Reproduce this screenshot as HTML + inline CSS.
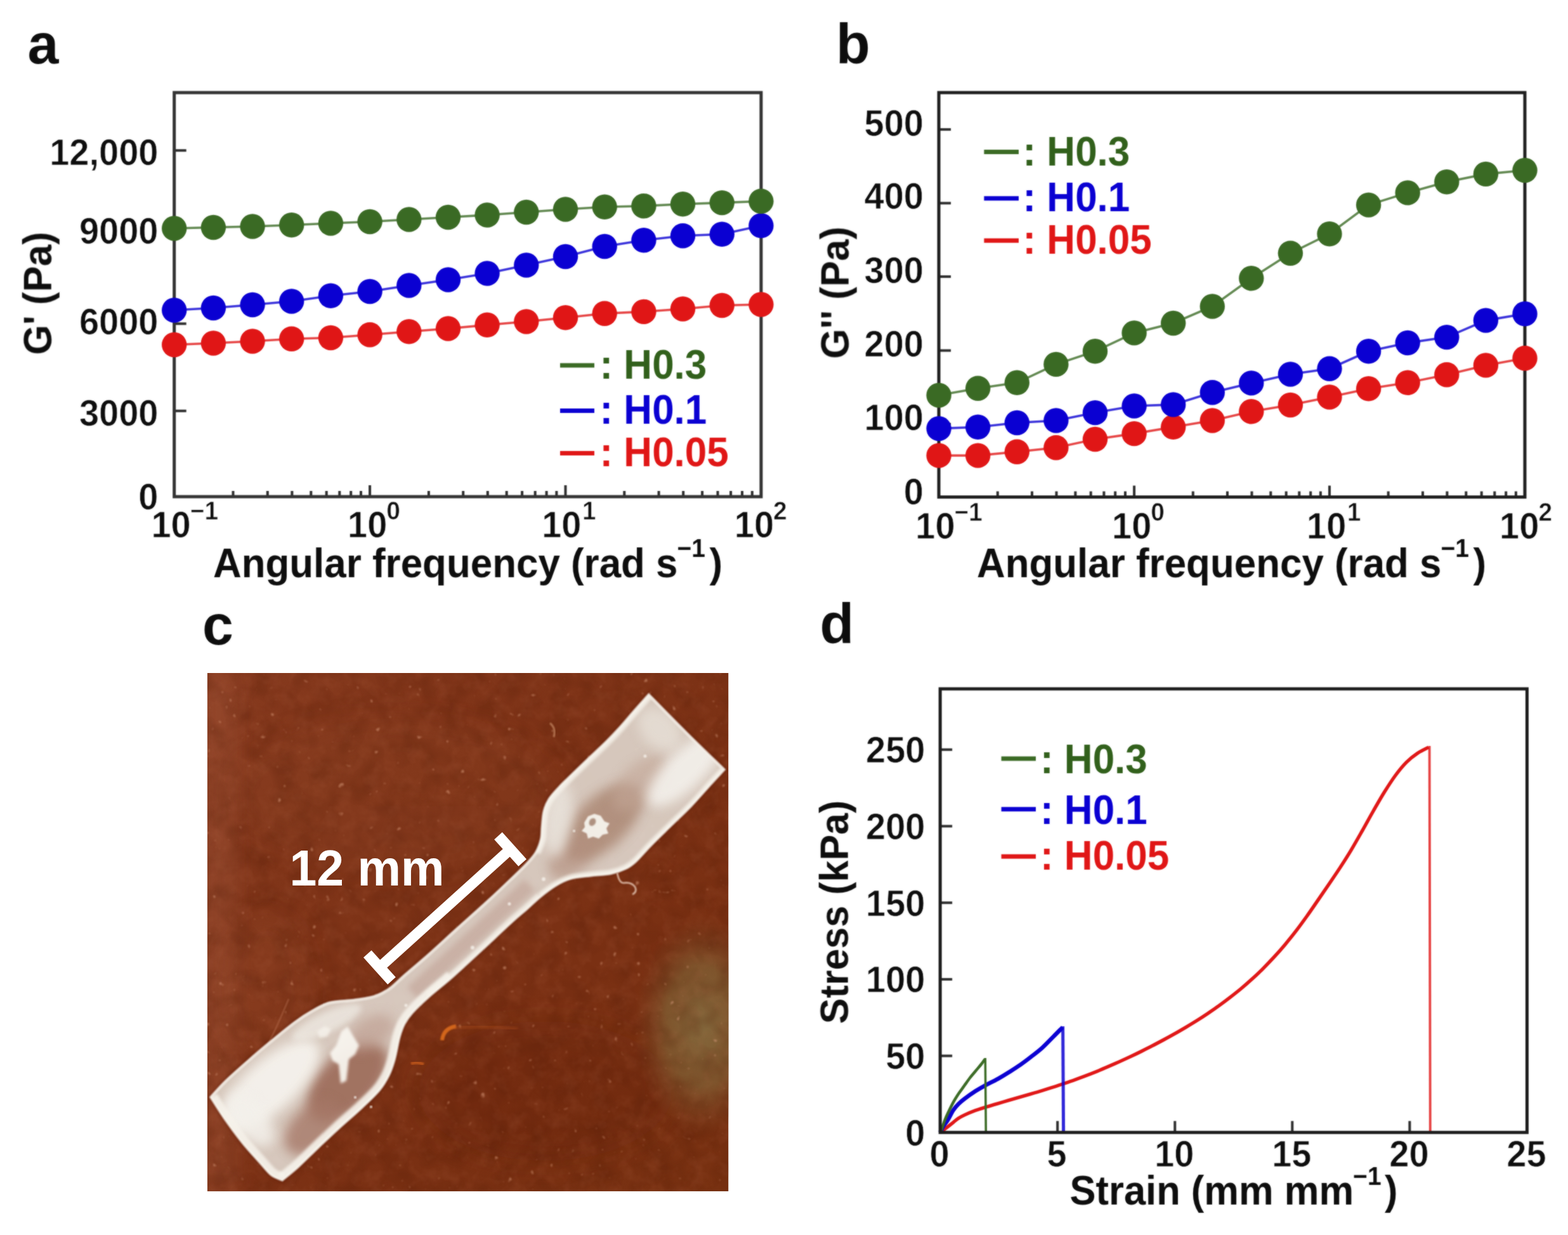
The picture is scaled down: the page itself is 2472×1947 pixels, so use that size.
<!DOCTYPE html>
<html lang="en">
<head>
<meta charset="utf-8">
<title>Figure: rheology and tensile properties of hydrogels</title>
<style>
html, body { margin: 0; padding: 0; background: #ffffff; }
body { width: 2472px; height: 1947px; overflow: hidden; }
svg { display: block; }
svg text { font-family: "Liberation Sans", Arial, Helvetica, sans-serif; font-weight: 700; }
</style>
</head>
<body>
<svg width="2472" height="1947" viewBox="0 0 2472 1947">
<defs><filter id="soft" x="-5%" y="-5%" width="110%" height="110%" color-interpolation-filters="sRGB"><feGaussianBlur stdDeviation="1" result="b"/><feComposite in="b" in2="SourceGraphic" operator="arithmetic" k1="0" k2="0.55" k3="0.45" k4="0"/></filter></defs>
<rect x="0" y="0" width="2472" height="1947" fill="#ffffff"/>
<g id="panel-a" filter="url(#soft)">
<text transform="translate(43.5 99.8) scale(1 1.02)" font-size="88" fill="#0d0d0d">a</text>
<line x1="274.7" y1="237.2" x2="293.7" y2="237.2" stroke="#2e2e2e" stroke-width="4"/>
<line x1="274.7" y1="510.3" x2="293.7" y2="510.3" stroke="#2e2e2e" stroke-width="4"/>
<line x1="274.7" y1="647.8" x2="293.7" y2="647.8" stroke="#2e2e2e" stroke-width="4"/>
<line x1="367.5" y1="774" x2="367.5" y2="783" stroke="#2e2e2e" stroke-width="4"/>
<line x1="421.8" y1="774" x2="421.8" y2="783" stroke="#2e2e2e" stroke-width="4"/>
<line x1="460.4" y1="774" x2="460.4" y2="783" stroke="#2e2e2e" stroke-width="4"/>
<line x1="490.3" y1="774" x2="490.3" y2="783" stroke="#2e2e2e" stroke-width="4"/>
<line x1="514.7" y1="774" x2="514.7" y2="783" stroke="#2e2e2e" stroke-width="4"/>
<line x1="535.3" y1="774" x2="535.3" y2="783" stroke="#2e2e2e" stroke-width="4"/>
<line x1="553.2" y1="774" x2="553.2" y2="783" stroke="#2e2e2e" stroke-width="4"/>
<line x1="569.0" y1="774" x2="569.0" y2="783" stroke="#2e2e2e" stroke-width="4"/>
<line x1="583.1" y1="765" x2="583.1" y2="783" stroke="#2e2e2e" stroke-width="4"/>
<line x1="675.9" y1="774" x2="675.9" y2="783" stroke="#2e2e2e" stroke-width="4"/>
<line x1="730.2" y1="774" x2="730.2" y2="783" stroke="#2e2e2e" stroke-width="4"/>
<line x1="768.8" y1="774" x2="768.8" y2="783" stroke="#2e2e2e" stroke-width="4"/>
<line x1="798.7" y1="774" x2="798.7" y2="783" stroke="#2e2e2e" stroke-width="4"/>
<line x1="823.1" y1="774" x2="823.1" y2="783" stroke="#2e2e2e" stroke-width="4"/>
<line x1="843.7" y1="774" x2="843.7" y2="783" stroke="#2e2e2e" stroke-width="4"/>
<line x1="861.6" y1="774" x2="861.6" y2="783" stroke="#2e2e2e" stroke-width="4"/>
<line x1="877.4" y1="774" x2="877.4" y2="783" stroke="#2e2e2e" stroke-width="4"/>
<line x1="891.5" y1="765" x2="891.5" y2="783" stroke="#2e2e2e" stroke-width="4"/>
<line x1="984.3" y1="774" x2="984.3" y2="783" stroke="#2e2e2e" stroke-width="4"/>
<line x1="1038.6" y1="774" x2="1038.6" y2="783" stroke="#2e2e2e" stroke-width="4"/>
<line x1="1077.2" y1="774" x2="1077.2" y2="783" stroke="#2e2e2e" stroke-width="4"/>
<line x1="1107.1" y1="774" x2="1107.1" y2="783" stroke="#2e2e2e" stroke-width="4"/>
<line x1="1131.5" y1="774" x2="1131.5" y2="783" stroke="#2e2e2e" stroke-width="4"/>
<line x1="1152.1" y1="774" x2="1152.1" y2="783" stroke="#2e2e2e" stroke-width="4"/>
<line x1="1170.0" y1="774" x2="1170.0" y2="783" stroke="#2e2e2e" stroke-width="4"/>
<line x1="1185.8" y1="774" x2="1185.8" y2="783" stroke="#2e2e2e" stroke-width="4"/>
<rect x="274.7" y="146" width="925.2" height="637" fill="none" stroke="#333333" stroke-width="5"/>
<text transform="translate(249.5 260.2) scale(1 1.04)" font-size="56" fill="#0d0d0d" text-anchor="end" stroke="#ffffff" stroke-width="0.7">12,000</text>
<text transform="translate(249.5 383.7) scale(1 1.04)" font-size="56" fill="#0d0d0d" text-anchor="end" stroke="#ffffff" stroke-width="0.7">9000</text>
<text transform="translate(249.5 527.2) scale(1 1.04)" font-size="56" fill="#0d0d0d" text-anchor="end" stroke="#ffffff" stroke-width="0.7">6000</text>
<text transform="translate(249.5 670.5) scale(1 1.04)" font-size="56" fill="#0d0d0d" text-anchor="end" stroke="#ffffff" stroke-width="0.7">3000</text>
<text transform="translate(249.5 802.5) scale(1 1.04)" font-size="56" fill="#0d0d0d" text-anchor="end" stroke="#ffffff" stroke-width="0.7">0</text>
<text transform="translate(238.4 847.3) scale(1 1.04)" font-size="56" fill="#0d0d0d" stroke="#ffffff" stroke-width="0.7">10<tspan font-size="39" dy="-27" dx="-1">−1</tspan></text>
<text transform="translate(548 847.3) scale(1 1.04)" font-size="56" fill="#0d0d0d" stroke="#ffffff" stroke-width="0.7">10<tspan font-size="39" dy="-27" dx="-1">0</tspan></text>
<text transform="translate(854.2 847.3) scale(1 1.04)" font-size="56" fill="#0d0d0d" stroke="#ffffff" stroke-width="0.7">10<tspan font-size="39" dy="-27" dx="1.5">1</tspan></text>
<text transform="translate(1157.8 847.3) scale(1 1.04)" font-size="56" fill="#0d0d0d" stroke="#ffffff" stroke-width="0.7">10<tspan font-size="39" dy="-27" dx="-1">2</tspan></text>
<text transform="translate(336 909.5) scale(1 1.04)" font-size="61.9" fill="#0d0d0d">Angular frequency (rad s<tspan font-size="39" dy="-30.5" dx="-1">−1</tspan><tspan dy="30.5" dx="6.5">)</tspan></text>
<text transform="translate(81 462.5) rotate(-90) scale(1 1.04)" font-size="61" fill="#0d0d0d" text-anchor="middle">G' (Pa)</text>
<polyline points="274.7,543.5 336.4,541 398.1,538 459.7,534.2 521.4,532.5 583.1,527.7 644.8,522.8 706.5,518 768.1,512.3 829.8,507 891.5,500.8 953.2,494.2 1014.9,491.4 1076.5,487 1138.2,481.5 1199.9,480" fill="none" stroke="#e01616" stroke-width="3.6" opacity="0.8"/>
<circle cx="274.7" cy="543.5" r="19.7" fill="#e01616"/>
<circle cx="336.4" cy="541" r="19.7" fill="#e01616"/>
<circle cx="398.1" cy="538" r="19.7" fill="#e01616"/>
<circle cx="459.7" cy="534.2" r="19.7" fill="#e01616"/>
<circle cx="521.4" cy="532.5" r="19.7" fill="#e01616"/>
<circle cx="583.1" cy="527.7" r="19.7" fill="#e01616"/>
<circle cx="644.8" cy="522.8" r="19.7" fill="#e01616"/>
<circle cx="706.5" cy="518" r="19.7" fill="#e01616"/>
<circle cx="768.1" cy="512.3" r="19.7" fill="#e01616"/>
<circle cx="829.8" cy="507" r="19.7" fill="#e01616"/>
<circle cx="891.5" cy="500.8" r="19.7" fill="#e01616"/>
<circle cx="953.2" cy="494.2" r="19.7" fill="#e01616"/>
<circle cx="1014.9" cy="491.4" r="19.7" fill="#e01616"/>
<circle cx="1076.5" cy="487" r="19.7" fill="#e01616"/>
<circle cx="1138.2" cy="481.5" r="19.7" fill="#e01616"/>
<circle cx="1199.9" cy="480" r="19.7" fill="#e01616"/>
<polyline points="274.7,489 336.4,485.5 398.1,480.5 459.7,475 521.4,466.3 583.1,459.5 644.8,450 706.5,441 768.1,431 829.8,418 891.5,404.5 953.2,388.5 1014.9,378.8 1076.5,371.7 1138.2,369.3 1199.9,355.8" fill="none" stroke="#0a00d2" stroke-width="3.6" opacity="0.8"/>
<circle cx="274.7" cy="489" r="19.7" fill="#0a00d2"/>
<circle cx="336.4" cy="485.5" r="19.7" fill="#0a00d2"/>
<circle cx="398.1" cy="480.5" r="19.7" fill="#0a00d2"/>
<circle cx="459.7" cy="475" r="19.7" fill="#0a00d2"/>
<circle cx="521.4" cy="466.3" r="19.7" fill="#0a00d2"/>
<circle cx="583.1" cy="459.5" r="19.7" fill="#0a00d2"/>
<circle cx="644.8" cy="450" r="19.7" fill="#0a00d2"/>
<circle cx="706.5" cy="441" r="19.7" fill="#0a00d2"/>
<circle cx="768.1" cy="431" r="19.7" fill="#0a00d2"/>
<circle cx="829.8" cy="418" r="19.7" fill="#0a00d2"/>
<circle cx="891.5" cy="404.5" r="19.7" fill="#0a00d2"/>
<circle cx="953.2" cy="388.5" r="19.7" fill="#0a00d2"/>
<circle cx="1014.9" cy="378.8" r="19.7" fill="#0a00d2"/>
<circle cx="1076.5" cy="371.7" r="19.7" fill="#0a00d2"/>
<circle cx="1138.2" cy="369.3" r="19.7" fill="#0a00d2"/>
<circle cx="1199.9" cy="355.8" r="19.7" fill="#0a00d2"/>
<polyline points="274.7,360 336.4,358.5 398.1,357 459.7,354.8 521.4,352 583.1,349.5 644.8,346 706.5,342.5 768.1,339 829.8,334.5 891.5,330 953.2,326.3 1014.9,324.7 1076.5,321.8 1138.2,319.6 1199.9,317.2" fill="none" stroke="#3a6a24" stroke-width="3.6" opacity="0.8"/>
<circle cx="274.7" cy="360" r="19.7" fill="#3a6a24"/>
<circle cx="336.4" cy="358.5" r="19.7" fill="#3a6a24"/>
<circle cx="398.1" cy="357" r="19.7" fill="#3a6a24"/>
<circle cx="459.7" cy="354.8" r="19.7" fill="#3a6a24"/>
<circle cx="521.4" cy="352" r="19.7" fill="#3a6a24"/>
<circle cx="583.1" cy="349.5" r="19.7" fill="#3a6a24"/>
<circle cx="644.8" cy="346" r="19.7" fill="#3a6a24"/>
<circle cx="706.5" cy="342.5" r="19.7" fill="#3a6a24"/>
<circle cx="768.1" cy="339" r="19.7" fill="#3a6a24"/>
<circle cx="829.8" cy="334.5" r="19.7" fill="#3a6a24"/>
<circle cx="891.5" cy="330" r="19.7" fill="#3a6a24"/>
<circle cx="953.2" cy="326.3" r="19.7" fill="#3a6a24"/>
<circle cx="1014.9" cy="324.7" r="19.7" fill="#3a6a24"/>
<circle cx="1076.5" cy="321.8" r="19.7" fill="#3a6a24"/>
<circle cx="1138.2" cy="319.6" r="19.7" fill="#3a6a24"/>
<circle cx="1199.9" cy="317.2" r="19.7" fill="#3a6a24"/>
<line x1="883" y1="576" x2="937" y2="576" stroke="#3a6a24" stroke-width="7"/>
<text transform="translate(945.5 596.5) scale(1 1.04)" font-size="62" fill="#31601b">: H0.3</text>
<line x1="883" y1="647.5" x2="937" y2="647.5" stroke="#0a00d2" stroke-width="7"/>
<text transform="translate(945.5 668) scale(1 1.04)" font-size="62" fill="#0a00d2">: H0.1</text>
<line x1="883" y1="714.5" x2="937" y2="714.5" stroke="#e01616" stroke-width="7"/>
<text transform="translate(945.5 734.5) scale(1 1.04)" font-size="62" fill="#e01616">: H0.05</text>
</g>
<g id="panel-b" filter="url(#soft)">
<text transform="translate(1318 100) scale(1 1.02)" font-size="88" fill="#0d0d0d">b</text>
<line x1="1480.1" y1="204.1" x2="1499.1" y2="204.1" stroke="#2e2e2e" stroke-width="4"/>
<line x1="1480.1" y1="320.3" x2="1499.1" y2="320.3" stroke="#2e2e2e" stroke-width="4"/>
<line x1="1480.1" y1="436.1" x2="1499.1" y2="436.1" stroke="#2e2e2e" stroke-width="4"/>
<line x1="1480.1" y1="552.6" x2="1499.1" y2="552.6" stroke="#2e2e2e" stroke-width="4"/>
<line x1="1480.1" y1="668.7" x2="1499.1" y2="668.7" stroke="#2e2e2e" stroke-width="4"/>
<line x1="1572.8" y1="774.6" x2="1572.8" y2="783.6" stroke="#2e2e2e" stroke-width="4"/>
<line x1="1627.0" y1="774.6" x2="1627.0" y2="783.6" stroke="#2e2e2e" stroke-width="4"/>
<line x1="1665.5" y1="774.6" x2="1665.5" y2="783.6" stroke="#2e2e2e" stroke-width="4"/>
<line x1="1695.4" y1="774.6" x2="1695.4" y2="783.6" stroke="#2e2e2e" stroke-width="4"/>
<line x1="1719.7" y1="774.6" x2="1719.7" y2="783.6" stroke="#2e2e2e" stroke-width="4"/>
<line x1="1740.4" y1="774.6" x2="1740.4" y2="783.6" stroke="#2e2e2e" stroke-width="4"/>
<line x1="1758.2" y1="774.6" x2="1758.2" y2="783.6" stroke="#2e2e2e" stroke-width="4"/>
<line x1="1774.0" y1="774.6" x2="1774.0" y2="783.6" stroke="#2e2e2e" stroke-width="4"/>
<line x1="1788.1" y1="765.6" x2="1788.1" y2="783.6" stroke="#2e2e2e" stroke-width="4"/>
<line x1="1880.8" y1="774.6" x2="1880.8" y2="783.6" stroke="#2e2e2e" stroke-width="4"/>
<line x1="1935.0" y1="774.6" x2="1935.0" y2="783.6" stroke="#2e2e2e" stroke-width="4"/>
<line x1="1973.5" y1="774.6" x2="1973.5" y2="783.6" stroke="#2e2e2e" stroke-width="4"/>
<line x1="2003.3" y1="774.6" x2="2003.3" y2="783.6" stroke="#2e2e2e" stroke-width="4"/>
<line x1="2027.7" y1="774.6" x2="2027.7" y2="783.6" stroke="#2e2e2e" stroke-width="4"/>
<line x1="2048.3" y1="774.6" x2="2048.3" y2="783.6" stroke="#2e2e2e" stroke-width="4"/>
<line x1="2066.2" y1="774.6" x2="2066.2" y2="783.6" stroke="#2e2e2e" stroke-width="4"/>
<line x1="2081.9" y1="774.6" x2="2081.9" y2="783.6" stroke="#2e2e2e" stroke-width="4"/>
<line x1="2096.0" y1="765.6" x2="2096.0" y2="783.6" stroke="#2e2e2e" stroke-width="4"/>
<line x1="2188.7" y1="774.6" x2="2188.7" y2="783.6" stroke="#2e2e2e" stroke-width="4"/>
<line x1="2243.0" y1="774.6" x2="2243.0" y2="783.6" stroke="#2e2e2e" stroke-width="4"/>
<line x1="2281.4" y1="774.6" x2="2281.4" y2="783.6" stroke="#2e2e2e" stroke-width="4"/>
<line x1="2311.3" y1="774.6" x2="2311.3" y2="783.6" stroke="#2e2e2e" stroke-width="4"/>
<line x1="2335.7" y1="774.6" x2="2335.7" y2="783.6" stroke="#2e2e2e" stroke-width="4"/>
<line x1="2356.3" y1="774.6" x2="2356.3" y2="783.6" stroke="#2e2e2e" stroke-width="4"/>
<line x1="2374.2" y1="774.6" x2="2374.2" y2="783.6" stroke="#2e2e2e" stroke-width="4"/>
<line x1="2389.9" y1="774.6" x2="2389.9" y2="783.6" stroke="#2e2e2e" stroke-width="4"/>
<rect x="1480.1" y="146" width="923.9000000000001" height="637.6" fill="none" stroke="#1e1e1e" stroke-width="5"/>
<text transform="translate(1456 214.0) scale(1 1.04)" font-size="56" fill="#0d0d0d" text-anchor="end" stroke="#ffffff" stroke-width="0.7">500</text>
<text transform="translate(1456 329.2) scale(1 1.04)" font-size="56" fill="#0d0d0d" text-anchor="end" stroke="#ffffff" stroke-width="0.7">400</text>
<text transform="translate(1456 445.5) scale(1 1.04)" font-size="56" fill="#0d0d0d" text-anchor="end" stroke="#ffffff" stroke-width="0.7">300</text>
<text transform="translate(1456 561.5) scale(1 1.04)" font-size="56" fill="#0d0d0d" text-anchor="end" stroke="#ffffff" stroke-width="0.7">200</text>
<text transform="translate(1456 677.8) scale(1 1.04)" font-size="56" fill="#0d0d0d" text-anchor="end" stroke="#ffffff" stroke-width="0.7">100</text>
<text transform="translate(1456 794.7) scale(1 1.04)" font-size="56" fill="#0d0d0d" text-anchor="end" stroke="#ffffff" stroke-width="0.7">0</text>
<text transform="translate(1443.3 848.6) scale(1 1.04)" font-size="56" fill="#0d0d0d" stroke="#ffffff" stroke-width="0.7">10<tspan font-size="39" dy="-27" dx="-1">−1</tspan></text>
<text transform="translate(1753 848.6) scale(1 1.04)" font-size="56" fill="#0d0d0d" stroke="#ffffff" stroke-width="0.7">10<tspan font-size="39" dy="-27" dx="-1">0</tspan></text>
<text transform="translate(2060.1 848.6) scale(1 1.04)" font-size="56" fill="#0d0d0d" stroke="#ffffff" stroke-width="0.7">10<tspan font-size="39" dy="-27" dx="1.5">1</tspan></text>
<text transform="translate(2364.1 848.6) scale(1 1.04)" font-size="56" fill="#0d0d0d" stroke="#ffffff" stroke-width="0.7">10<tspan font-size="39" dy="-27" dx="-1">2</tspan></text>
<text transform="translate(1540 909.5) scale(1 1.04)" font-size="61.9" fill="#0d0d0d">Angular frequency (rad s<tspan font-size="39" dy="-30.5" dx="-1">−1</tspan><tspan dy="30.5" dx="6.5">)</tspan></text>
<text transform="translate(1338 461.5) rotate(-90) scale(1 1.04)" font-size="61" fill="#0d0d0d" text-anchor="middle">G'' (Pa)</text>
<polyline points="1480.1,718.1 1541.7,718.1 1603.3,712.2 1664.9,705.7 1726.5,692.5 1788.1,683.6 1849.7,673.3 1911.3,663 1972.8,648.8 2034.4,638.5 2096.0,626 2157.6,612.8 2219.2,603.3 2280.8,590.7 2342.4,575.9 2404.0,564.7" fill="none" stroke="#e01616" stroke-width="3.6" opacity="0.8"/>
<circle cx="1480.1" cy="718.1" r="19.7" fill="#e01616"/>
<circle cx="1541.7" cy="718.1" r="19.7" fill="#e01616"/>
<circle cx="1603.3" cy="712.2" r="19.7" fill="#e01616"/>
<circle cx="1664.9" cy="705.7" r="19.7" fill="#e01616"/>
<circle cx="1726.5" cy="692.5" r="19.7" fill="#e01616"/>
<circle cx="1788.1" cy="683.6" r="19.7" fill="#e01616"/>
<circle cx="1849.7" cy="673.3" r="19.7" fill="#e01616"/>
<circle cx="1911.3" cy="663" r="19.7" fill="#e01616"/>
<circle cx="1972.8" cy="648.8" r="19.7" fill="#e01616"/>
<circle cx="2034.4" cy="638.5" r="19.7" fill="#e01616"/>
<circle cx="2096.0" cy="626" r="19.7" fill="#e01616"/>
<circle cx="2157.6" cy="612.8" r="19.7" fill="#e01616"/>
<circle cx="2219.2" cy="603.3" r="19.7" fill="#e01616"/>
<circle cx="2280.8" cy="590.7" r="19.7" fill="#e01616"/>
<circle cx="2342.4" cy="575.9" r="19.7" fill="#e01616"/>
<circle cx="2404.0" cy="564.7" r="19.7" fill="#e01616"/>
<polyline points="1480.1,675.6 1541.7,673.3 1603.3,666.5 1664.9,663 1726.5,650.6 1788.1,640 1849.7,637.9 1911.3,618.7 1972.8,603.9 2034.4,590 2096.0,581.2 2157.6,553.8 2219.2,540.5 2280.8,531.6 2342.4,505.1 2404.0,494.8" fill="none" stroke="#0a00d2" stroke-width="3.6" opacity="0.8"/>
<circle cx="1480.1" cy="675.6" r="19.7" fill="#0a00d2"/>
<circle cx="1541.7" cy="673.3" r="19.7" fill="#0a00d2"/>
<circle cx="1603.3" cy="666.5" r="19.7" fill="#0a00d2"/>
<circle cx="1664.9" cy="663" r="19.7" fill="#0a00d2"/>
<circle cx="1726.5" cy="650.6" r="19.7" fill="#0a00d2"/>
<circle cx="1788.1" cy="640" r="19.7" fill="#0a00d2"/>
<circle cx="1849.7" cy="637.9" r="19.7" fill="#0a00d2"/>
<circle cx="1911.3" cy="618.7" r="19.7" fill="#0a00d2"/>
<circle cx="1972.8" cy="603.9" r="19.7" fill="#0a00d2"/>
<circle cx="2034.4" cy="590" r="19.7" fill="#0a00d2"/>
<circle cx="2096.0" cy="581.2" r="19.7" fill="#0a00d2"/>
<circle cx="2157.6" cy="553.8" r="19.7" fill="#0a00d2"/>
<circle cx="2219.2" cy="540.5" r="19.7" fill="#0a00d2"/>
<circle cx="2280.8" cy="531.6" r="19.7" fill="#0a00d2"/>
<circle cx="2342.4" cy="505.1" r="19.7" fill="#0a00d2"/>
<circle cx="2404.0" cy="494.8" r="19.7" fill="#0a00d2"/>
<polyline points="1480.1,623.1 1541.7,612.2 1603.3,603.3 1664.9,574.4 1726.5,553.8 1788.1,524.9 1849.7,509.5 1911.3,483 1972.8,438.8 2034.4,399.2 2096.0,368.8 2157.6,323.1 2219.2,303.9 2280.8,286.8 2342.4,274.4 2404.0,268.5" fill="none" stroke="#3a6a24" stroke-width="3.6" opacity="0.8"/>
<circle cx="1480.1" cy="623.1" r="19.7" fill="#3a6a24"/>
<circle cx="1541.7" cy="612.2" r="19.7" fill="#3a6a24"/>
<circle cx="1603.3" cy="603.3" r="19.7" fill="#3a6a24"/>
<circle cx="1664.9" cy="574.4" r="19.7" fill="#3a6a24"/>
<circle cx="1726.5" cy="553.8" r="19.7" fill="#3a6a24"/>
<circle cx="1788.1" cy="524.9" r="19.7" fill="#3a6a24"/>
<circle cx="1849.7" cy="509.5" r="19.7" fill="#3a6a24"/>
<circle cx="1911.3" cy="483" r="19.7" fill="#3a6a24"/>
<circle cx="1972.8" cy="438.8" r="19.7" fill="#3a6a24"/>
<circle cx="2034.4" cy="399.2" r="19.7" fill="#3a6a24"/>
<circle cx="2096.0" cy="368.8" r="19.7" fill="#3a6a24"/>
<circle cx="2157.6" cy="323.1" r="19.7" fill="#3a6a24"/>
<circle cx="2219.2" cy="303.9" r="19.7" fill="#3a6a24"/>
<circle cx="2280.8" cy="286.8" r="19.7" fill="#3a6a24"/>
<circle cx="2342.4" cy="274.4" r="19.7" fill="#3a6a24"/>
<circle cx="2404.0" cy="268.5" r="19.7" fill="#3a6a24"/>
<line x1="1551.4" y1="239.6" x2="1606" y2="239.6" stroke="#3a6a24" stroke-width="7"/>
<text transform="translate(1612.5 261) scale(1 1.04)" font-size="62" fill="#31601b">: H0.3</text>
<line x1="1551.4" y1="312.8" x2="1606" y2="312.8" stroke="#0a00d2" stroke-width="7"/>
<text transform="translate(1612.5 333.4) scale(1 1.04)" font-size="62" fill="#0a00d2">: H0.1</text>
<line x1="1551.4" y1="379.2" x2="1606" y2="379.2" stroke="#e01616" stroke-width="7"/>
<text transform="translate(1612.5 399.8) scale(1 1.04)" font-size="62" fill="#e01616">: H0.05</text>
</g>
<g id="panel-d" filter="url(#soft)">
<text transform="translate(1292.5 1013.8) scale(1 1.02)" font-size="88" fill="#0d0d0d">d</text>
<line x1="1482.2" y1="1664.6" x2="1501.2" y2="1664.6" stroke="#2e2e2e" stroke-width="4"/>
<line x1="1482.2" y1="1543.9" x2="1501.2" y2="1543.9" stroke="#2e2e2e" stroke-width="4"/>
<line x1="1482.2" y1="1423.2" x2="1501.2" y2="1423.2" stroke="#2e2e2e" stroke-width="4"/>
<line x1="1482.2" y1="1302.5" x2="1501.2" y2="1302.5" stroke="#2e2e2e" stroke-width="4"/>
<line x1="1482.2" y1="1181.8" x2="1501.2" y2="1181.8" stroke="#2e2e2e" stroke-width="4"/>
<line x1="1667.2" y1="1767.3" x2="1667.2" y2="1785.3" stroke="#2e2e2e" stroke-width="4"/>
<line x1="1852.3" y1="1767.3" x2="1852.3" y2="1785.3" stroke="#2e2e2e" stroke-width="4"/>
<line x1="2037.3" y1="1767.3" x2="2037.3" y2="1785.3" stroke="#2e2e2e" stroke-width="4"/>
<line x1="2222.4" y1="1767.3" x2="2222.4" y2="1785.3" stroke="#2e2e2e" stroke-width="4"/>
<text transform="translate(1458.5 1805.6) scale(1 1.04)" font-size="56" fill="#0d0d0d" text-anchor="end" stroke="#ffffff" stroke-width="0.7">0</text>
<text transform="translate(1458.5 1684.9) scale(1 1.04)" font-size="56" fill="#0d0d0d" text-anchor="end" stroke="#ffffff" stroke-width="0.7">50</text>
<text transform="translate(1458.5 1564.2) scale(1 1.04)" font-size="56" fill="#0d0d0d" text-anchor="end" stroke="#ffffff" stroke-width="0.7">100</text>
<text transform="translate(1458.5 1443.5) scale(1 1.04)" font-size="56" fill="#0d0d0d" text-anchor="end" stroke="#ffffff" stroke-width="0.7">150</text>
<text transform="translate(1458.5 1322.8) scale(1 1.04)" font-size="56" fill="#0d0d0d" text-anchor="end" stroke="#ffffff" stroke-width="0.7">200</text>
<text transform="translate(1458.5 1202.1) scale(1 1.04)" font-size="56" fill="#0d0d0d" text-anchor="end" stroke="#ffffff" stroke-width="0.7">250</text>
<text transform="translate(1481.2 1839.3) scale(1 1.04)" font-size="56" fill="#0d0d0d" text-anchor="middle" stroke="#ffffff" stroke-width="0.7">0</text>
<text transform="translate(1666.2 1839.3) scale(1 1.04)" font-size="56" fill="#0d0d0d" text-anchor="middle" stroke="#ffffff" stroke-width="0.7">5</text>
<text transform="translate(1851.3 1839.3) scale(1 1.04)" font-size="56" fill="#0d0d0d" text-anchor="middle" stroke="#ffffff" stroke-width="0.7">10</text>
<text transform="translate(2036.3 1839.3) scale(1 1.04)" font-size="56" fill="#0d0d0d" text-anchor="middle" stroke="#ffffff" stroke-width="0.7">15</text>
<text transform="translate(2221.4 1839.3) scale(1 1.04)" font-size="56" fill="#0d0d0d" text-anchor="middle" stroke="#ffffff" stroke-width="0.7">20</text>
<text transform="translate(2406.4 1839.3) scale(1 1.04)" font-size="56" fill="#0d0d0d" text-anchor="middle" stroke="#ffffff" stroke-width="0.7">25</text>
<text transform="translate(1686.5 1898.7) scale(1 1.04)" font-size="61.5" fill="#0d0d0d">Strain (mm mm<tspan font-size="39" dy="-30" dx="-1">−1</tspan><tspan dy="30" dx="5.5">)</tspan></text>
<text transform="translate(1337 1438) rotate(-90) scale(1 1.04)" font-size="61" fill="#0d0d0d" text-anchor="middle">Stress (kPa)</text>
<path d="M1482.2,1785.3 C1483.2,1784.6 1486.0,1782.5 1488.0,1781.0 C1490.0,1779.5 1491.7,1778.2 1494.2,1776.3 C1496.7,1774.3 1500.2,1771.5 1503.0,1769.3 C1505.8,1767.1 1508.1,1764.9 1511.0,1763.0 C1513.9,1761.1 1516.0,1760.0 1520.5,1757.9 C1525.0,1755.8 1532.2,1752.8 1538.0,1750.6 C1543.8,1748.4 1549.6,1746.8 1555.4,1745.0 C1561.2,1743.2 1567.0,1741.5 1572.8,1739.8 C1578.6,1738.1 1584.5,1736.4 1590.3,1734.7 C1596.1,1733.0 1601.9,1731.4 1607.7,1729.7 C1613.5,1728.0 1619.3,1726.4 1625.1,1724.7 C1630.9,1723.0 1636.7,1721.3 1642.5,1719.5 C1648.3,1717.7 1654.1,1715.9 1659.9,1714.0 C1665.7,1712.1 1671.6,1710.3 1677.4,1708.3 C1683.2,1706.3 1689.0,1704.3 1694.8,1702.2 C1700.6,1700.1 1706.4,1697.9 1712.2,1695.7 C1718.0,1693.5 1723.8,1691.2 1729.6,1688.9 C1735.4,1686.6 1741.2,1684.1 1747.0,1681.6 C1752.8,1679.1 1758.7,1676.5 1764.5,1673.9 C1770.3,1671.3 1776.1,1668.6 1781.9,1665.9 C1787.7,1663.2 1793.5,1660.4 1799.3,1657.5 C1805.1,1654.6 1810.9,1651.7 1816.7,1648.7 C1822.5,1645.7 1828.3,1642.6 1834.1,1639.5 C1839.9,1636.4 1845.8,1633.2 1851.6,1629.9 C1857.4,1626.6 1863.2,1623.2 1869.0,1619.8 C1874.8,1616.3 1880.6,1612.8 1886.4,1609.2 C1892.2,1605.6 1898.0,1601.8 1903.8,1597.9 C1909.6,1594.0 1915.4,1590.1 1921.2,1585.9 C1927.0,1581.7 1932.8,1577.4 1938.6,1572.9 C1944.4,1568.4 1950.3,1563.8 1956.1,1559.0 C1961.9,1554.2 1967.7,1549.1 1973.5,1543.8 C1979.3,1538.5 1985.1,1533.1 1990.9,1527.3 C1996.7,1521.5 2002.5,1515.5 2008.3,1509.2 C2014.1,1502.9 2019.9,1496.3 2025.7,1489.4 C2031.5,1482.5 2037.4,1475.3 2043.2,1467.7 C2049.0,1460.1 2054.8,1452.1 2060.6,1444.0 C2066.4,1435.9 2072.2,1427.3 2078.0,1418.9 C2083.8,1410.5 2089.6,1402.0 2095.4,1393.4 C2101.2,1384.9 2107.0,1376.5 2112.8,1367.6 C2118.6,1358.7 2124.5,1349.5 2130.3,1339.8 C2136.1,1330.1 2141.9,1319.8 2147.7,1309.6 C2153.5,1299.4 2159.3,1288.6 2165.1,1278.5 C2170.9,1268.4 2176.7,1258.1 2182.5,1248.8 C2188.3,1239.5 2194.1,1230.4 2199.9,1222.5 C2205.7,1214.6 2211.6,1207.4 2217.4,1201.6 C2223.2,1195.8 2229.0,1191.4 2234.8,1187.5 C2240.6,1183.6 2249.3,1179.6 2252.2,1178.0" fill="none" stroke="#e01616" stroke-width="5.4" stroke-linejoin="round"/>
<polyline points="2253.6,1176 2254.8,1785 2262,1785" fill="none" stroke="#e01616" stroke-width="3.8" opacity="0.82"/>
<path d="M1482.2,1785.3 C1483.0,1783.8 1485.0,1779.2 1487,1776 C1489.0,1772.8 1491.5,1770.1 1494.2,1765.8 C1496.9,1761.5 1500.2,1754.2 1503,1750 C1505.8,1745.8 1508.1,1743.4 1511,1740.5 C1513.9,1737.6 1516.0,1735.8 1520.5,1732.4 C1525.0,1729.0 1532.6,1723.6 1538,1720.1 C1543.4,1716.6 1547.1,1714.5 1553,1711.3 C1558.9,1708.1 1566.9,1704.3 1573.2,1700.8 C1579.5,1697.3 1585.0,1693.9 1590.8,1690.2 C1596.6,1686.5 1602.4,1682.9 1608.3,1678.8 C1614.2,1674.7 1620.1,1670.2 1625.9,1665.7 C1631.8,1661.2 1637.6,1656.9 1643.4,1651.6 C1649.2,1646.3 1655.7,1639.3 1661,1634 C1666.3,1628.7 1672.9,1621.9 1675.3,1619.5" fill="none" stroke="#0a00d2" stroke-width="6.5" stroke-linejoin="round"/>
<polyline points="1675.6,1618 1676.6,1785" fill="none" stroke="#0a00d2" stroke-width="5" opacity="0.85"/>
<path d="M1482.2,1785.3 C1482.7,1784.1 1484.2,1781.2 1485.4,1778 C1486.6,1774.8 1488.0,1769.8 1489.5,1766 C1491.0,1762.2 1492.0,1759.9 1494.2,1755.2 C1496.5,1750.5 1500.1,1743.0 1503,1737.7 C1505.9,1732.4 1508.8,1728.0 1511.7,1723.6 C1514.6,1719.2 1517.6,1715.4 1520.5,1711.3 C1523.4,1707.2 1526.4,1702.8 1529.3,1699 C1532.2,1695.2 1535.1,1692.0 1538,1688.5 C1540.9,1685.0 1544.3,1681.2 1546.8,1678 C1549.3,1674.8 1552.0,1670.9 1553,1669.5" fill="none" stroke="#3a6a24" stroke-width="4.5" stroke-linejoin="round"/>
<polyline points="1553.3,1668 1554.3,1785 1559,1785" fill="none" stroke="#3a6a24" stroke-width="3.5"/>
<rect x="1482.2" y="1086" width="925.2" height="699.3" fill="none" stroke="#1c1c1c" stroke-width="5"/>
<line x1="1578.6" y1="1196" x2="1633" y2="1196" stroke="#3a6a24" stroke-width="7"/>
<text transform="translate(1640 1218.8) scale(1 1.04)" font-size="62" fill="#31601b">: H0.3</text>
<line x1="1578.6" y1="1275.8" x2="1633" y2="1275.8" stroke="#0a00d2" stroke-width="7"/>
<text transform="translate(1640 1298.5) scale(1 1.04)" font-size="62" fill="#0a00d2">: H0.1</text>
<line x1="1578.6" y1="1350.2" x2="1633" y2="1350.2" stroke="#e01616" stroke-width="7"/>
<text transform="translate(1640 1370.8) scale(1 1.04)" font-size="62" fill="#e01616">: H0.05</text>
</g>
<g id="panel-c">
<g filter="url(#soft)">
<text transform="translate(319 1016.3) scale(1 1.02)" font-size="88" fill="#0d0d0d">c</text>
</g>
<defs>
<clipPath id="photoClip"><rect x="326.8" y="1061" width="821.7" height="817.2"/></clipPath>
<clipPath id="specClip"><path d="M1022.8,1095.6 C1032.5,1105.5 1061.5,1135.2 1081.3,1154.8 C1101.0,1174.4 1131.3,1203.5 1141.3,1213.3 C1137.9,1217.0 1129.5,1225.9 1120.8,1235.4 C1112.1,1245.0 1099.6,1259.6 1089.0,1270.6 C1078.4,1281.6 1067.9,1291.1 1057.3,1301.5 C1046.7,1311.9 1034.8,1323.4 1025.5,1332.8 C1016.2,1342.2 1008.4,1352.0 1001.8,1358.0 C995.2,1364.0 992.6,1365.9 986.0,1369.1 C979.4,1372.3 971.4,1375.2 962.2,1377.0 C953.0,1378.8 941.1,1378.9 930.6,1380.2 C920.1,1381.5 908.2,1382.3 899.0,1384.9 C889.8,1387.5 883.2,1391.2 875.3,1396.0 C867.4,1400.8 859.1,1407.3 851.6,1413.4 C844.1,1419.5 838.1,1425.8 830.5,1432.6 C822.9,1439.3 818.2,1442.7 805.9,1453.9 C793.6,1465.1 772.3,1485.4 756.7,1499.8 C741.1,1514.2 725.7,1528.6 712.2,1540.5 C698.7,1552.4 686.3,1561.8 675.9,1571.0 C665.5,1580.2 656.5,1588.8 650.0,1596.0 C643.5,1603.2 640.4,1607.9 637.0,1614.3 C633.6,1620.7 631.4,1627.9 629.5,1634.3 C627.6,1640.7 626.9,1646.1 625.5,1652.4 C624.1,1658.7 623.1,1665.1 621.0,1672.0 C618.9,1678.9 616.8,1686.3 613.0,1694.0 C609.2,1701.7 605.2,1709.3 598.0,1718.0 C590.8,1726.7 581.0,1735.7 570.0,1746.0 C559.0,1756.3 543.7,1769.3 532.0,1780.0 C520.3,1790.7 510.3,1800.2 500.0,1810.0 C489.7,1819.8 479.2,1830.7 470.0,1839.0 C460.8,1847.3 449.2,1856.5 445.0,1860.0 C442.2,1858.7 433.7,1856.5 428.0,1852.0 C422.3,1847.5 418.1,1841.5 410.7,1833.2 C403.3,1824.9 392.6,1813.5 383.5,1802.3 C374.4,1791.1 364.8,1778.1 356.3,1766.0 C347.8,1753.9 336.6,1735.8 332.7,1729.7 C336.6,1725.5 346.3,1714.0 356.3,1704.3 C366.3,1694.6 380.5,1682.2 392.6,1671.6 C404.7,1661.0 416.8,1650.8 428.9,1640.8 C441.0,1630.8 454.6,1619.5 465.2,1611.7 C475.8,1603.9 483.3,1599.1 492.4,1594.0 C501.5,1588.9 509.2,1583.8 520.0,1581.0 C530.8,1578.2 545.8,1578.5 557.0,1577.0 C568.2,1575.5 579.0,1574.1 587.0,1572.0 C595.0,1569.9 599.8,1567.2 605.0,1564.5 C610.2,1561.8 612.2,1560.8 618.0,1556.0 C623.8,1551.2 630.5,1544.3 640.0,1536.0 C649.5,1527.7 661.7,1517.8 675.0,1506.0 C688.3,1494.2 704.2,1479.3 720.0,1465.0 C735.8,1450.7 755.7,1433.2 770.0,1420.0 C784.3,1406.8 795.9,1395.7 806.0,1386.0 C816.1,1376.3 824.0,1369.0 830.5,1362.0 C837.0,1355.0 841.4,1350.6 845.2,1344.1 C849.0,1337.6 851.8,1329.7 853.4,1322.8 C855.0,1315.9 854.2,1310.0 855.0,1302.7 C855.8,1295.4 856.1,1286.1 857.9,1279.0 C859.7,1271.9 862.0,1266.3 866.0,1260.0 C870.0,1253.7 876.9,1246.6 882.0,1241.0 C887.1,1235.4 889.1,1233.8 896.5,1226.5 C903.9,1219.2 916.7,1206.9 926.5,1197.5 C936.3,1188.1 946.9,1178.5 955.5,1170.0 C964.1,1161.5 970.5,1154.8 978.0,1146.5 C985.5,1138.2 993.0,1129.0 1000.5,1120.5 C1008.0,1112.0 1019.1,1099.8 1022.8,1095.6Z"/></clipPath>
<linearGradient id="bgGrad" gradientUnits="userSpaceOnUse" x1="330" y1="1065" x2="1145" y2="1875"><stop offset="0" stop-color="#873a1e"/><stop offset="0.3" stop-color="#7f3418"/><stop offset="0.65" stop-color="#7a3013"/><stop offset="1" stop-color="#783111"/></linearGradient>
<radialGradient id="tan" gradientUnits="userSpaceOnUse" cx="1108" cy="1618" r="150" gradientTransform="translate(1108 1618) scale(0.72 1.15) translate(-1108 -1618)"><stop offset="0" stop-color="#84683c" stop-opacity="1"/><stop offset="0.55" stop-color="#7f5a30" stop-opacity="0.85"/><stop offset="1" stop-color="#7a4524" stop-opacity="0"/></radialGradient>
<filter id="grain" x="0" y="0" width="100%" height="100%" color-interpolation-filters="sRGB"><feTurbulence type="fractalNoise" baseFrequency="0.045" numOctaves="3" seed="7"/><feColorMatrix type="matrix" values="0 0 0 0 0.72  0 0 0 0 0.42  0 0 0 0 0.30  1.3 0 0 0 -0.55"/></filter>
<filter id="grainD" x="0" y="0" width="100%" height="100%" color-interpolation-filters="sRGB"><feTurbulence type="fractalNoise" baseFrequency="0.03" numOctaves="2" seed="23"/><feColorMatrix type="matrix" values="0 0 0 0 0.30  0 0 0 0 0.09  0 0 0 0 0.02  0 1.3 0 0 -0.5"/></filter>
<filter id="specks" x="0" y="0" width="100%" height="100%" color-interpolation-filters="sRGB"><feTurbulence type="fractalNoise" baseFrequency="0.09" numOctaves="2" seed="41"/><feColorMatrix type="matrix" values="0 0 0 0 0.86  0 0 0 0 0.62  0 0 0 0 0.5  0 0 9 0 -6.75"/><feGaussianBlur stdDeviation="0.9"/></filter>
<filter id="b1" x="-20%" y="-20%" width="140%" height="140%"><feGaussianBlur stdDeviation="1.1"/></filter>
<filter id="b2" x="-20%" y="-20%" width="140%" height="140%"><feGaussianBlur stdDeviation="2.2"/></filter>
<filter id="b5" x="-30%" y="-30%" width="160%" height="160%"><feGaussianBlur stdDeviation="5"/></filter>
<filter id="b8" x="-40%" y="-40%" width="180%" height="180%"><feGaussianBlur stdDeviation="9"/></filter>
<filter id="b16" x="-50%" y="-50%" width="200%" height="200%"><feGaussianBlur stdDeviation="18"/></filter>
</defs>
<g clip-path="url(#photoClip)">
<rect x="326.8" y="1061" width="821.7" height="817.2" fill="url(#bgGrad)"/>
<rect x="316.8" y="1061" width="55" height="817.2" fill="#a4583c" opacity="0.45" filter="url(#b16)"/>
<ellipse cx="620" cy="1250" rx="260" ry="120" fill="#93482b" opacity="0.22" filter="url(#b16)"/>
<ellipse cx="860" cy="1720" rx="200" ry="110" fill="#6c280a" opacity="0.4" filter="url(#b16)"/>
<ellipse cx="420" cy="1560" rx="70" ry="120" fill="#95492c" opacity="0.35" filter="url(#b16)"/>
<ellipse cx="1108" cy="1618" rx="120" ry="180" fill="url(#tan)"/>
<rect x="326.8" y="1061" width="821.7" height="817.2" filter="url(#grainD)" opacity="0.4"/>
<rect x="326.8" y="1061" width="821.7" height="817.2" filter="url(#grain)" opacity="0.26"/>
<rect x="326.8" y="1061" width="821.7" height="817.2" filter="url(#specks)" opacity="0.5"/>
<path d="M697,1640 q2,-19 22,-22" fill="none" stroke="#e2701f" stroke-width="6" opacity="0.85" filter="url(#b1)"/>
<path d="M716,1620 q50,-4 100,2" fill="none" stroke="#b4511c" stroke-width="4" opacity="0.45" filter="url(#b2)"/>
<path d="M648,1677 q10,-4 20,1" fill="none" stroke="#cf5f1c" stroke-width="5" opacity="0.7" filter="url(#b1)"/>
<path d="M455,1575 q-25,60 -45,95" fill="none" stroke="#b26a4c" stroke-width="2" opacity="0.6" filter="url(#b1)"/>
<path d="M867,1140 q10,8 6,22" fill="none" stroke="#c98d68" stroke-width="3" opacity="0.7" filter="url(#b1)"/>
<path d="M1022.8,1095.6 C1032.5,1105.5 1061.5,1135.2 1081.3,1154.8 C1101.0,1174.4 1131.3,1203.5 1141.3,1213.3 C1137.9,1217.0 1129.5,1225.9 1120.8,1235.4 C1112.1,1245.0 1099.6,1259.6 1089.0,1270.6 C1078.4,1281.6 1067.9,1291.1 1057.3,1301.5 C1046.7,1311.9 1034.8,1323.4 1025.5,1332.8 C1016.2,1342.2 1008.4,1352.0 1001.8,1358.0 C995.2,1364.0 992.6,1365.9 986.0,1369.1 C979.4,1372.3 971.4,1375.2 962.2,1377.0 C953.0,1378.8 941.1,1378.9 930.6,1380.2 C920.1,1381.5 908.2,1382.3 899.0,1384.9 C889.8,1387.5 883.2,1391.2 875.3,1396.0 C867.4,1400.8 859.1,1407.3 851.6,1413.4 C844.1,1419.5 838.1,1425.8 830.5,1432.6 C822.9,1439.3 818.2,1442.7 805.9,1453.9 C793.6,1465.1 772.3,1485.4 756.7,1499.8 C741.1,1514.2 725.7,1528.6 712.2,1540.5 C698.7,1552.4 686.3,1561.8 675.9,1571.0 C665.5,1580.2 656.5,1588.8 650.0,1596.0 C643.5,1603.2 640.4,1607.9 637.0,1614.3 C633.6,1620.7 631.4,1627.9 629.5,1634.3 C627.6,1640.7 626.9,1646.1 625.5,1652.4 C624.1,1658.7 623.1,1665.1 621.0,1672.0 C618.9,1678.9 616.8,1686.3 613.0,1694.0 C609.2,1701.7 605.2,1709.3 598.0,1718.0 C590.8,1726.7 581.0,1735.7 570.0,1746.0 C559.0,1756.3 543.7,1769.3 532.0,1780.0 C520.3,1790.7 510.3,1800.2 500.0,1810.0 C489.7,1819.8 479.2,1830.7 470.0,1839.0 C460.8,1847.3 449.2,1856.5 445.0,1860.0 C442.2,1858.7 433.7,1856.5 428.0,1852.0 C422.3,1847.5 418.1,1841.5 410.7,1833.2 C403.3,1824.9 392.6,1813.5 383.5,1802.3 C374.4,1791.1 364.8,1778.1 356.3,1766.0 C347.8,1753.9 336.6,1735.8 332.7,1729.7 C336.6,1725.5 346.3,1714.0 356.3,1704.3 C366.3,1694.6 380.5,1682.2 392.6,1671.6 C404.7,1661.0 416.8,1650.8 428.9,1640.8 C441.0,1630.8 454.6,1619.5 465.2,1611.7 C475.8,1603.9 483.3,1599.1 492.4,1594.0 C501.5,1588.9 509.2,1583.8 520.0,1581.0 C530.8,1578.2 545.8,1578.5 557.0,1577.0 C568.2,1575.5 579.0,1574.1 587.0,1572.0 C595.0,1569.9 599.8,1567.2 605.0,1564.5 C610.2,1561.8 612.2,1560.8 618.0,1556.0 C623.8,1551.2 630.5,1544.3 640.0,1536.0 C649.5,1527.7 661.7,1517.8 675.0,1506.0 C688.3,1494.2 704.2,1479.3 720.0,1465.0 C735.8,1450.7 755.7,1433.2 770.0,1420.0 C784.3,1406.8 795.9,1395.7 806.0,1386.0 C816.1,1376.3 824.0,1369.0 830.5,1362.0 C837.0,1355.0 841.4,1350.6 845.2,1344.1 C849.0,1337.6 851.8,1329.7 853.4,1322.8 C855.0,1315.9 854.2,1310.0 855.0,1302.7 C855.8,1295.4 856.1,1286.1 857.9,1279.0 C859.7,1271.9 862.0,1266.3 866.0,1260.0 C870.0,1253.7 876.9,1246.6 882.0,1241.0 C887.1,1235.4 889.1,1233.8 896.5,1226.5 C903.9,1219.2 916.7,1206.9 926.5,1197.5 C936.3,1188.1 946.9,1178.5 955.5,1170.0 C964.1,1161.5 970.5,1154.8 978.0,1146.5 C985.5,1138.2 993.0,1129.0 1000.5,1120.5 C1008.0,1112.0 1019.1,1099.8 1022.8,1095.6Z" fill="none" stroke="#5e1f08" stroke-width="9" opacity="0.35" filter="url(#b2)"/>
<path d="M1022.8,1095.6 C1032.5,1105.5 1061.5,1135.2 1081.3,1154.8 C1101.0,1174.4 1131.3,1203.5 1141.3,1213.3 C1137.9,1217.0 1129.5,1225.9 1120.8,1235.4 C1112.1,1245.0 1099.6,1259.6 1089.0,1270.6 C1078.4,1281.6 1067.9,1291.1 1057.3,1301.5 C1046.7,1311.9 1034.8,1323.4 1025.5,1332.8 C1016.2,1342.2 1008.4,1352.0 1001.8,1358.0 C995.2,1364.0 992.6,1365.9 986.0,1369.1 C979.4,1372.3 971.4,1375.2 962.2,1377.0 C953.0,1378.8 941.1,1378.9 930.6,1380.2 C920.1,1381.5 908.2,1382.3 899.0,1384.9 C889.8,1387.5 883.2,1391.2 875.3,1396.0 C867.4,1400.8 859.1,1407.3 851.6,1413.4 C844.1,1419.5 838.1,1425.8 830.5,1432.6 C822.9,1439.3 818.2,1442.7 805.9,1453.9 C793.6,1465.1 772.3,1485.4 756.7,1499.8 C741.1,1514.2 725.7,1528.6 712.2,1540.5 C698.7,1552.4 686.3,1561.8 675.9,1571.0 C665.5,1580.2 656.5,1588.8 650.0,1596.0 C643.5,1603.2 640.4,1607.9 637.0,1614.3 C633.6,1620.7 631.4,1627.9 629.5,1634.3 C627.6,1640.7 626.9,1646.1 625.5,1652.4 C624.1,1658.7 623.1,1665.1 621.0,1672.0 C618.9,1678.9 616.8,1686.3 613.0,1694.0 C609.2,1701.7 605.2,1709.3 598.0,1718.0 C590.8,1726.7 581.0,1735.7 570.0,1746.0 C559.0,1756.3 543.7,1769.3 532.0,1780.0 C520.3,1790.7 510.3,1800.2 500.0,1810.0 C489.7,1819.8 479.2,1830.7 470.0,1839.0 C460.8,1847.3 449.2,1856.5 445.0,1860.0 C442.2,1858.7 433.7,1856.5 428.0,1852.0 C422.3,1847.5 418.1,1841.5 410.7,1833.2 C403.3,1824.9 392.6,1813.5 383.5,1802.3 C374.4,1791.1 364.8,1778.1 356.3,1766.0 C347.8,1753.9 336.6,1735.8 332.7,1729.7 C336.6,1725.5 346.3,1714.0 356.3,1704.3 C366.3,1694.6 380.5,1682.2 392.6,1671.6 C404.7,1661.0 416.8,1650.8 428.9,1640.8 C441.0,1630.8 454.6,1619.5 465.2,1611.7 C475.8,1603.9 483.3,1599.1 492.4,1594.0 C501.5,1588.9 509.2,1583.8 520.0,1581.0 C530.8,1578.2 545.8,1578.5 557.0,1577.0 C568.2,1575.5 579.0,1574.1 587.0,1572.0 C595.0,1569.9 599.8,1567.2 605.0,1564.5 C610.2,1561.8 612.2,1560.8 618.0,1556.0 C623.8,1551.2 630.5,1544.3 640.0,1536.0 C649.5,1527.7 661.7,1517.8 675.0,1506.0 C688.3,1494.2 704.2,1479.3 720.0,1465.0 C735.8,1450.7 755.7,1433.2 770.0,1420.0 C784.3,1406.8 795.9,1395.7 806.0,1386.0 C816.1,1376.3 824.0,1369.0 830.5,1362.0 C837.0,1355.0 841.4,1350.6 845.2,1344.1 C849.0,1337.6 851.8,1329.7 853.4,1322.8 C855.0,1315.9 854.2,1310.0 855.0,1302.7 C855.8,1295.4 856.1,1286.1 857.9,1279.0 C859.7,1271.9 862.0,1266.3 866.0,1260.0 C870.0,1253.7 876.9,1246.6 882.0,1241.0 C887.1,1235.4 889.1,1233.8 896.5,1226.5 C903.9,1219.2 916.7,1206.9 926.5,1197.5 C936.3,1188.1 946.9,1178.5 955.5,1170.0 C964.1,1161.5 970.5,1154.8 978.0,1146.5 C985.5,1138.2 993.0,1129.0 1000.5,1120.5 C1008.0,1112.0 1019.1,1099.8 1022.8,1095.6Z" fill="#dcd0c6" opacity="0.95" filter="url(#b1)"/>
<g clip-path="url(#specClip)">
<ellipse cx="950" cy="1296" rx="78" ry="40" transform="rotate(-44 950 1296)" fill="#a98470" opacity="0.8" filter="url(#b8)"/>
<ellipse cx="900" cy="1352" rx="42" ry="26" transform="rotate(-44 900 1352)" fill="#b3907f" opacity="0.65" filter="url(#b8)"/>
<ellipse cx="1010" cy="1235" rx="55" ry="30" transform="rotate(-44 1010 1235)" fill="#c2a696" opacity="0.6" filter="url(#b8)"/>
<ellipse cx="548" cy="1706" rx="78" ry="44" transform="rotate(-44 548 1706)" fill="#9d6c5a" opacity="0.92" filter="url(#b8)"/>
<ellipse cx="492" cy="1778" rx="52" ry="32" transform="rotate(-44 492 1778)" fill="#a67868" opacity="0.8" filter="url(#b8)"/>
<ellipse cx="585" cy="1628" rx="40" ry="24" transform="rotate(-30 585 1628)" fill="#bb9a8c" opacity="0.6" filter="url(#b8)"/>
<path d="M650,1565 L835,1395" stroke="#c5a99d" stroke-width="24" opacity="0.75" filter="url(#b5)" fill="none"/>
<ellipse cx="1082" cy="1212" rx="80" ry="30" transform="rotate(-44 1082 1212)" fill="#f5f3ee" opacity="0.85" filter="url(#b8)"/>
<ellipse cx="1040" cy="1150" rx="40" ry="28" transform="rotate(45 1040 1150)" fill="#ece7df" opacity="0.6" filter="url(#b8)"/>
<ellipse cx="880" cy="1290" rx="22" ry="60" transform="rotate(5 880 1290)" fill="#ebe6df" opacity="0.75" filter="url(#b8)"/>
<ellipse cx="425" cy="1712" rx="100" ry="40" transform="rotate(-42 425 1712)" fill="#f5f2ec" opacity="0.95" filter="url(#b8)"/>
<ellipse cx="395" cy="1765" rx="50" ry="26" transform="rotate(52 395 1765)" fill="#f3f0ea" opacity="0.85" filter="url(#b8)"/>
<ellipse cx="515" cy="1612" rx="60" ry="16" transform="rotate(-25 515 1612)" fill="#f0ece5" opacity="0.7" filter="url(#b5)"/>
</g>
<path d="M1022.8,1095.6 C1032.5,1105.5 1061.5,1135.2 1081.3,1154.8 C1101.0,1174.4 1131.3,1203.5 1141.3,1213.3 C1137.9,1217.0 1129.5,1225.9 1120.8,1235.4 C1112.1,1245.0 1099.6,1259.6 1089.0,1270.6 C1078.4,1281.6 1067.9,1291.1 1057.3,1301.5 C1046.7,1311.9 1034.8,1323.4 1025.5,1332.8 C1016.2,1342.2 1008.4,1352.0 1001.8,1358.0 C995.2,1364.0 992.6,1365.9 986.0,1369.1 C979.4,1372.3 971.4,1375.2 962.2,1377.0 C953.0,1378.8 941.1,1378.9 930.6,1380.2 C920.1,1381.5 908.2,1382.3 899.0,1384.9 C889.8,1387.5 883.2,1391.2 875.3,1396.0 C867.4,1400.8 859.1,1407.3 851.6,1413.4 C844.1,1419.5 838.1,1425.8 830.5,1432.6 C822.9,1439.3 818.2,1442.7 805.9,1453.9 C793.6,1465.1 772.3,1485.4 756.7,1499.8 C741.1,1514.2 725.7,1528.6 712.2,1540.5 C698.7,1552.4 686.3,1561.8 675.9,1571.0 C665.5,1580.2 656.5,1588.8 650.0,1596.0 C643.5,1603.2 640.4,1607.9 637.0,1614.3 C633.6,1620.7 631.4,1627.9 629.5,1634.3 C627.6,1640.7 626.9,1646.1 625.5,1652.4 C624.1,1658.7 623.1,1665.1 621.0,1672.0 C618.9,1678.9 616.8,1686.3 613.0,1694.0 C609.2,1701.7 605.2,1709.3 598.0,1718.0 C590.8,1726.7 581.0,1735.7 570.0,1746.0 C559.0,1756.3 543.7,1769.3 532.0,1780.0 C520.3,1790.7 510.3,1800.2 500.0,1810.0 C489.7,1819.8 479.2,1830.7 470.0,1839.0 C460.8,1847.3 449.2,1856.5 445.0,1860.0 C442.2,1858.7 433.7,1856.5 428.0,1852.0 C422.3,1847.5 418.1,1841.5 410.7,1833.2 C403.3,1824.9 392.6,1813.5 383.5,1802.3 C374.4,1791.1 364.8,1778.1 356.3,1766.0 C347.8,1753.9 336.6,1735.8 332.7,1729.7 C336.6,1725.5 346.3,1714.0 356.3,1704.3 C366.3,1694.6 380.5,1682.2 392.6,1671.6 C404.7,1661.0 416.8,1650.8 428.9,1640.8 C441.0,1630.8 454.6,1619.5 465.2,1611.7 C475.8,1603.9 483.3,1599.1 492.4,1594.0 C501.5,1588.9 509.2,1583.8 520.0,1581.0 C530.8,1578.2 545.8,1578.5 557.0,1577.0 C568.2,1575.5 579.0,1574.1 587.0,1572.0 C595.0,1569.9 599.8,1567.2 605.0,1564.5 C610.2,1561.8 612.2,1560.8 618.0,1556.0 C623.8,1551.2 630.5,1544.3 640.0,1536.0 C649.5,1527.7 661.7,1517.8 675.0,1506.0 C688.3,1494.2 704.2,1479.3 720.0,1465.0 C735.8,1450.7 755.7,1433.2 770.0,1420.0 C784.3,1406.8 795.9,1395.7 806.0,1386.0 C816.1,1376.3 824.0,1369.0 830.5,1362.0 C837.0,1355.0 841.4,1350.6 845.2,1344.1 C849.0,1337.6 851.8,1329.7 853.4,1322.8 C855.0,1315.9 854.2,1310.0 855.0,1302.7 C855.8,1295.4 856.1,1286.1 857.9,1279.0 C859.7,1271.9 862.0,1266.3 866.0,1260.0 C870.0,1253.7 876.9,1246.6 882.0,1241.0 C887.1,1235.4 889.1,1233.8 896.5,1226.5 C903.9,1219.2 916.7,1206.9 926.5,1197.5 C936.3,1188.1 946.9,1178.5 955.5,1170.0 C964.1,1161.5 970.5,1154.8 978.0,1146.5 C985.5,1138.2 993.0,1129.0 1000.5,1120.5 C1008.0,1112.0 1019.1,1099.8 1022.8,1095.6Z" fill="none" stroke="#f4efe7" stroke-width="4.5" opacity="0.9" filter="url(#b1)"/>
<g clip-path="url(#specClip)">
<path d="M712.2,1540.5 C706.2,1545.6 686.3,1561.8 675.9,1571.0 C665.5,1580.2 656.5,1588.8 650.0,1596.0 C643.5,1603.2 640.4,1607.9 637.0,1614.3 C633.6,1620.7 631.4,1627.9 629.5,1634.3 C627.6,1640.7 626.9,1646.1 625.5,1652.4 C624.1,1658.7 623.1,1665.1 621.0,1672.0 C618.9,1678.9 616.8,1686.3 613.0,1694.0 C609.2,1701.7 605.2,1709.3 598.0,1718.0 C590.8,1726.7 581.0,1735.7 570.0,1746.0 C559.0,1756.3 543.7,1769.3 532.0,1780.0 C520.3,1790.7 510.3,1800.2 500.0,1810.0 C489.7,1819.8 479.2,1830.7 470.0,1839.0 C460.8,1847.3 449.2,1856.5 445.0,1860.0" fill="none" stroke="#f6f2ea" stroke-width="22" opacity="0.9" filter="url(#b2)"/>
<path d="M445.0,1860.0 C442.2,1858.7 433.7,1856.5 428.0,1852.0 C422.3,1847.5 418.1,1841.5 410.7,1833.2 C403.3,1824.9 392.6,1813.5 383.5,1802.3 C374.4,1791.1 364.8,1778.1 356.3,1766.0 C347.8,1753.9 336.6,1735.8 332.7,1729.7" fill="none" stroke="#f6f2ea" stroke-width="22" opacity="0.85" filter="url(#b2)"/>
<path d="M1141.3,1213.3 C1137.9,1217.0 1129.5,1225.9 1120.8,1235.4 C1112.1,1245.0 1099.6,1259.6 1089.0,1270.6 C1078.4,1281.6 1067.9,1291.1 1057.3,1301.5 C1046.7,1311.9 1034.8,1323.4 1025.5,1332.8 C1016.2,1342.2 1008.4,1352.0 1001.8,1358.0 C995.2,1364.0 992.6,1365.9 986.0,1369.1 C979.4,1372.3 971.4,1375.2 962.2,1377.0 C953.0,1378.8 941.1,1378.9 930.6,1380.2 C920.1,1381.5 908.2,1382.3 899.0,1384.9 C889.8,1387.5 883.2,1391.2 875.3,1396.0 C867.4,1400.8 855.5,1410.5 851.6,1413.4" fill="none" stroke="#f6f2ea" stroke-width="12" opacity="0.85" filter="url(#b2)"/>
<path d="M845.2,1344.1 C846.6,1340.5 851.8,1329.7 853.4,1322.8 C855.0,1315.9 854.2,1310.0 855.0,1302.7 C855.8,1295.4 856.1,1286.1 857.9,1279.0 C859.7,1271.9 862.0,1266.3 866.0,1260.0 C870.0,1253.7 876.9,1246.6 882.0,1241.0 C887.1,1235.4 889.1,1233.8 896.5,1226.5 C903.9,1219.2 916.7,1206.9 926.5,1197.5 C936.3,1188.1 946.9,1178.5 955.5,1170.0 C964.1,1161.5 970.5,1154.8 978.0,1146.5 C985.5,1138.2 993.0,1129.0 1000.5,1120.5 C1008.0,1112.0 1019.1,1099.8 1022.8,1095.6" fill="none" stroke="#f6f2ea" stroke-width="14" opacity="0.85" filter="url(#b2)"/>
<path d="M851.6,1413.4 C848.1,1416.6 838.1,1425.8 830.5,1432.6 C822.9,1439.3 818.2,1442.7 805.9,1453.9 C793.6,1465.1 772.3,1485.4 756.7,1499.8 C741.1,1514.2 725.7,1528.6 712.2,1540.5 C698.7,1552.4 682.0,1565.9 675.9,1571.0" fill="none" stroke="#f6f2ea" stroke-width="14" opacity="0.8" filter="url(#b2)"/>
</g>
<path d="M921,1297 l6,-10 l10,-4 l10,3 l6,9 l8,3 l-5,8 l3,8 l-9,2 l-6,6 l-9,-3 l-8,3 l-2,-8 l-8,-4 l5,-6 z" fill="#f6f3ec" opacity="0.95" filter="url(#b1)"/>
<ellipse cx="934" cy="1296" rx="5" ry="6.5" transform="rotate(30 934 1296)" fill="#a78876" opacity="0.9" filter="url(#b1)"/>
<path d="M520,1660 l10,-12 l8,-22 l10,-8 l8,14 l10,16 l-6,14 l-10,8 l-4,34 l-9,4 l-3,-30 l-10,-6 z" fill="#f8f5ef" opacity="0.95" filter="url(#b2)"/>
<path d="M500,1626 l12,-8 l10,4 l-6,12 l-12,2 z" fill="#f5f1ea" opacity="0.85" filter="url(#b2)"/>
<path d="M973,1376 q3,16 10,16 q12,-2 18,6 q4,8 -4,12" fill="none" stroke="#e3c3b0" stroke-width="2.6" opacity="0.9" filter="url(#b1)"/>
<circle cx="857" cy="1386" r="3" fill="#f4efe8" opacity="0.85" filter="url(#b1)"/>
<circle cx="905" cy="1310" r="2" fill="#f4efe8" opacity="0.85" filter="url(#b1)"/>
<circle cx="745" cy="1494" r="3" fill="#f4efe8" opacity="0.85" filter="url(#b1)"/>
<circle cx="803" cy="1425" r="2.5" fill="#f4efe8" opacity="0.85" filter="url(#b1)"/>
<circle cx="1017" cy="1192" r="2.5" fill="#f4efe8" opacity="0.85" filter="url(#b1)"/>
<circle cx="640" cy="1585" r="2.5" fill="#f4efe8" opacity="0.85" filter="url(#b1)"/>
<circle cx="560" cy="1730" r="2" fill="#f4efe8" opacity="0.85" filter="url(#b1)"/>
<circle cx="585" cy="1745" r="2" fill="#f4efe8" opacity="0.85" filter="url(#b1)"/>
<line x1="598.4" y1="1525.1" x2="804.6" y2="1338.9" stroke="#ffffff" stroke-width="16.5"/>
<line x1="579.3" y1="1503.9" x2="617.5" y2="1546.3" stroke="#ffffff" stroke-width="17"/>
<line x1="785.5" y1="1317.7" x2="823.7" y2="1360.1" stroke="#ffffff" stroke-width="17"/>
<text transform="translate(456.5 1396) scale(1 1.03)" font-size="77" fill="#ffffff">12 mm</text>
</g>
</g>
</svg>
</body>
</html>
